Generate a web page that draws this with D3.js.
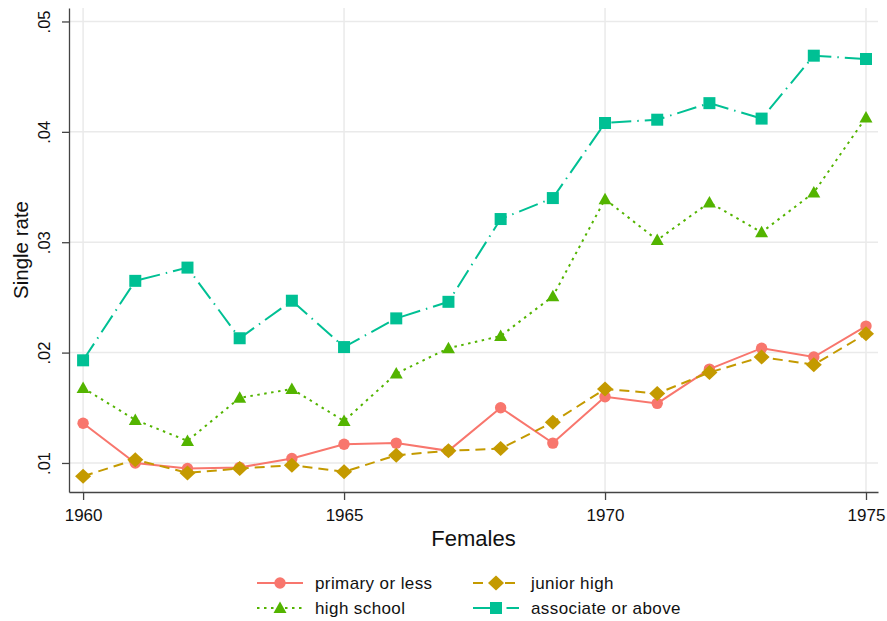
<!DOCTYPE html>
<html><head><meta charset="utf-8">
<script src="https://cdn.jsdelivr.net/npm/d3@7"></script>
<style>body{margin:0;background:#fff;} svg{display:block;font-family:"Liberation Sans",Arial,Helvetica,sans-serif;}</style>
</head><body>
<svg id="c" width="887" height="621"></svg>
<script>
const years = [1960,1961,1962,1963,1964,1965,1966,1967,1968,1969,1970,1971,1972,1973,1974,1975];
const primary  = [0.0136,0.0100,0.0095,0.0096,0.0104,0.0117,0.0118,0.0111,0.0150,0.0118,0.0160,0.0154,0.0185,0.0204,0.0196,0.0224];
const junior   = [0.0088,0.0103,0.0091,0.0095,0.0098,0.0092,0.0107,0.0111,0.0113,0.0137,0.0167,0.0163,0.0182,0.0196,0.0189,0.0217];
const highsch  = [0.0168,0.0139,0.0120,0.0159,0.0167,0.0138,0.0181,0.0204,0.0215,0.0251,0.0339,0.0302,0.0336,0.0309,0.0345,0.0413];
const assoc    = [0.0193,0.0265,0.0277,0.0213,0.0247,0.0205,0.0231,0.0246,0.0321,0.0340,0.0408,0.0411,0.0426,0.0412,0.0469,0.0466];
const seriesNames = ["primary or less","junior high","high school","associate or above"];
const yTicks = [0.01,0.02,0.03,0.04,0.05];
const yTickLabels = [".01",".02",".03",".04",".05"];
const xTicks = [1960,1965,1970,1975];

const series = [
  {name:seriesNames[0], vals:primary, color:"#F8766D", dash:null, marker:"circle"},
  {name:seriesNames[1], vals:junior, color:"#C49A00", dash:"10,6", marker:"diamond"},
  {name:seriesNames[2], vals:highsch, color:"#53B400", dash:"2.5,4.5", marker:"triangle"},
  {name:seriesNames[3], vals:assoc, color:"#00C094", dash:"20,6,1.5,6", marker:"square"}
];

const L=69, R=878, T=8, B=492;
const x = d3.scaleLinear().domain([1959.73,1975.23]).range([L,R]);
const y = d3.scaleLinear().domain([0.00737,0.05122]).range([B,T]);
const svg = d3.select("#c");

// grid
const g = svg.append("g");
g.selectAll("line.v").data(xTicks).enter().append("line")
  .attr("x1",d=>x(d)).attr("x2",d=>x(d)).attr("y1",T).attr("y2",B)
  .attr("stroke","#eaeaea").attr("stroke-width",1.5);
g.selectAll("line.h").data(yTicks).enter().append("line")
  .attr("x1",L).attr("x2",R).attr("y1",d=>y(d)).attr("y2",d=>y(d))
  .attr("stroke","#eaeaea").attr("stroke-width",1.5);

// axes
const yAxis = d3.axisLeft(y).tickValues(yTicks).tickFormat((d,i)=>yTickLabels[i]).tickSize(7).tickSizeOuter(0);
const ya = svg.append("g").attr("transform",`translate(${L},0)`).call(yAxis);
ya.select(".domain").attr("stroke","#444").attr("stroke-width",1.3);
ya.selectAll(".tick line").attr("stroke","#444").attr("stroke-width",1.3);
ya.selectAll(".tick text").attr("font-size",16.5).attr("fill","#111")
  .attr("transform","rotate(-90)").attr("x",0).attr("y",-19).attr("dy","0")
  .attr("text-anchor","middle");

const xAxis = d3.axisBottom(x).tickValues(xTicks).tickFormat(d3.format("d")).tickSize(8).tickSizeOuter(0);
const xa = svg.append("g").attr("transform",`translate(0,${B})`).call(xAxis);
xa.select(".domain").attr("stroke","#444").attr("stroke-width",1.3);
xa.selectAll(".tick line").attr("stroke","#444").attr("stroke-width",1.3);
xa.selectAll(".tick text").attr("font-size",17).attr("fill","#111").attr("y",29).attr("dy","0");

svg.append("text").attr("x",(L+R)/2).attr("y",546).attr("text-anchor","middle")
  .attr("font-size",22).attr("fill","#111").text("Females");
svg.append("text").attr("transform",`translate(28,${(T+B)/2}) rotate(-90)`).attr("text-anchor","middle")
  .attr("font-size",20.5).attr("fill","#111").text("Single rate");

function drawMarker(sel, type, color){
  if(type==="circle") return sel.append("circle").attr("r",5.7).attr("fill",color);
  if(type==="square") return sel.append("rect").attr("x",-6).attr("y",-6).attr("width",12).attr("height",12).attr("fill",color);
  if(type==="diamond") return sel.append("path").attr("d","M0,-7.5L8,0L0,7.5L-8,0Z").attr("fill",color);
  if(type==="triangle") return sel.append("path").attr("d","M0,-6.5L6.5,5L-6.5,5Z").attr("fill",color);
}

const line = d3.line().x((d,i)=>x(years[i])).y(d=>y(d));
const plot = svg.append("g");
series.forEach(s=>{
  plot.append("path").datum(s.vals).attr("d",line).attr("fill","none")
    .attr("stroke",s.color).attr("stroke-width",2).attr("stroke-dasharray",s.dash);
});
series.forEach(s=>{
  s.vals.forEach((v,i)=>{
    const m = plot.append("g").attr("transform",`translate(${x(years[i])},${y(v)})`);
    drawMarker(m, s.marker, s.color);
  });
});

// legend
const legPos = [[257,583],[473,583],[257,608],[473,608]];
series.forEach((s,i)=>{
  const [lx,ly] = legPos[i];
  const lg = svg.append("g").attr("transform",`translate(${lx},${ly})`);
  lg.append("line").attr("x1",0).attr("x2",46).attr("y1",0).attr("y2",0)
    .attr("stroke",s.color).attr("stroke-width",2).attr("stroke-dasharray",s.dash);
  const m = lg.append("g").attr("transform","translate(23,0)");
  drawMarker(m, s.marker, s.color);
  lg.append("text").attr("x",58).attr("y",0).attr("dy","0.35em").attr("font-size",17)
    .attr("letter-spacing","0.4").attr("fill","#111").text(s.name);
});
</script>
</body></html>
